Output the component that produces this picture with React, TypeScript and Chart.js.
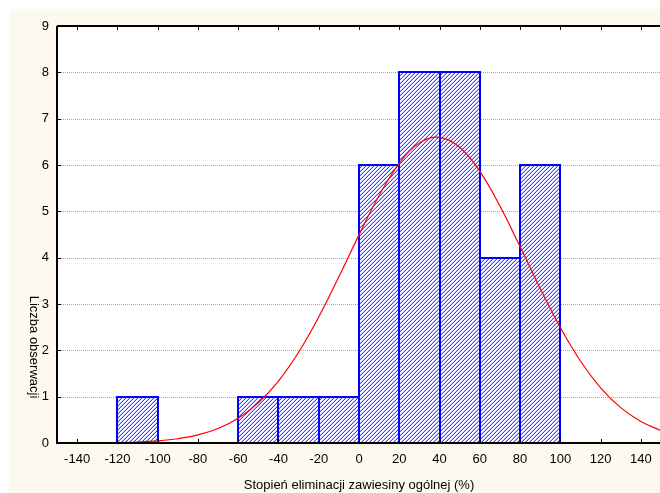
import React, { useEffect, useRef } from 'react';
import { Chart, registerables } from 'chart.js';

Chart.register(...registerables);

// Histogram bins (lower edges), bin width and counts
const binStarts = [-120, -60, -40, -20, 0, 20, 40, 60, 80];
const binWidth = 20;
const counts = [1, 1, 1, 1, 6, 8, 8, 4, 6];

// Expected-normal curve
const curveX = [-150, -140, -130, -120, -110, -100, -90, -80, -70, -60, -50, -40, -30, -20, -10, 0, 10, 20, 30, 40, 50, 60, 70, 80, 90, 100, 110, 120, 130, 140, 150];
const curveY = [0.001, 0.002, 0.004, 0.01, 0.022, 0.046, 0.092, 0.174, 0.314, 0.536, 0.869, 1.338, 1.958, 2.719, 3.587, 4.492, 5.343, 6.036, 6.475, 6.597, 6.382, 5.863, 5.116, 4.239, 3.336, 2.493, 1.769, 1.192, 0.763, 0.464, 0.268];

const xTicks = [-140, -120, -100, -80, -60, -40, -20, 0, 20, 40, 60, 80, 100, 120, 140];
const yTicks = [0, 1, 2, 3, 4, 5, 6, 7, 8, 9];

const xTitle = 'Stopień eliminacji zawiesiny ogólnej (%)';
const yTitle = 'Liczba obserwacji';

const FONT = '"Liberation Sans", Arial, sans-serif';
const CREAM = '#fdf9ef';

function makePattern(): CanvasPattern | string {
  const c = document.createElement('canvas');
  const p = 4;
  c.width = p;
  c.height = p;
  const g = c.getContext('2d');
  if (!g) return '#aaaaff';
  for (let x = 0; x < p; x++) {
    for (let y = 0; y < p; y++) {
      const d = (x + y) % p;
      g.fillStyle = d === 3 ? '#4444ff' : d === 2 ? '#bcbcff' : '#ffffff';
      g.fillRect(x, y, 1, 1);
    }
  }
  const pat = g.createPattern(c, 'repeat');
  return pat || '#aaaaff';
}

const framePlugin = {
  id: 'framePlugin',
  beforeDraw(chart: any) {
    const { ctx, chartArea: a, width, height } = chart;
    ctx.save();
    ctx.fillStyle = '#ffffff';
    ctx.fillRect(0, 0, width, height);
    ctx.fillStyle = CREAM;
    ctx.fillRect(9, 9, width - 9, height - 9);
    ctx.fillStyle = '#ffffff';
    ctx.fillRect(a.left, a.top, a.right - a.left, a.bottom - a.top);
    ctx.restore();
  },
  beforeDatasetsDraw(chart: any) {
    const { ctx, chartArea: a } = chart;
    const ys = chart.scales.y;
    ctx.save();
    ctx.strokeStyle = '#a8a8a8';
    ctx.lineWidth = 1;
    ctx.setLineDash([1, 1]);
    yTicks.forEach((v) => {
      if (v === 0 || v === 9) return;
      const py = Math.round(ys.getPixelForValue(v)) + 0.5;
      ctx.beginPath();
      ctx.moveTo(a.left, py);
      ctx.lineTo(a.right, py);
      ctx.stroke();
    });
    ctx.restore();
  },
  afterDatasetDraw(chart: any, args: any) {
    if (args.index !== 1) return;
    const { ctx } = chart;
    const meta = chart.getDatasetMeta(1);
    ctx.save();
    ctx.strokeStyle = '#0000ff';
    ctx.lineWidth = 2;
    meta.data.forEach((el: any) => {
      const props = el.getProps(['x', 'y', 'base', 'width'], true);
      const l = Math.round(props.x - props.width / 2);
      const r = Math.round(props.x + props.width / 2);
      const t = Math.round(props.y);
      const b = Math.round(props.base);
      ctx.strokeRect(l, t, r - l, b - t);
    });
    ctx.restore();
  },
  afterDraw(chart: any) {
    const { ctx, chartArea: a } = chart;
    const xs = chart.scales.x;
    const ys = chart.scales.y;
    ctx.save();
    ctx.strokeStyle = '#000000';
    ctx.lineWidth = 2;
    ctx.beginPath();
    ctx.moveTo(a.left, a.top);
    ctx.lineTo(a.right, a.top);
    ctx.moveTo(a.left, a.top);
    ctx.lineTo(a.left, a.bottom);
    ctx.lineTo(a.right, a.bottom);
    ctx.stroke();
    ctx.lineWidth = 1;
    ctx.beginPath();
    xTicks.forEach((v) => {
      const px = Math.round(xs.getPixelForValue(v)) + 0.5;
      ctx.moveTo(px, a.bottom);
      ctx.lineTo(px, a.bottom - 4);
      ctx.moveTo(px, a.top);
      ctx.lineTo(px, a.top + 4);
    });
    yTicks.forEach((v) => {
      const py = Math.round(ys.getPixelForValue(v)) + 0.5;
      ctx.moveTo(a.left, py);
      ctx.lineTo(a.left + 4, py);
    });
    ctx.stroke();

    ctx.fillStyle = '#000000';
    ctx.font = '13px ' + FONT;
    ctx.textAlign = 'center';
    ctx.textBaseline = 'middle';
    ctx.fillText(xTitle, xs.getPixelForValue(0), 485);
    ctx.translate(34, 347);
    ctx.rotate(Math.PI / 2);
    ctx.fillText(yTitle, 0, 0);
    ctx.restore();
  },
};

export default function App() {
  const ref = useRef<HTMLCanvasElement | null>(null);

  useEffect(() => {
    if (!ref.current) return;
    const pattern = makePattern();
    const bars = binStarts.map((s, i) => ({ x: s + binWidth / 2, y: counts[i] }));
    const curve = curveX.map((x, i) => ({ x, y: curveY[i] }));

    const chart = new Chart(ref.current, {
      type: 'bar',
      data: {
        datasets: [
          {
            type: 'line',
            label: 'normal',
            data: curve,
            borderColor: '#ff0000',
            borderWidth: 1.2,
            pointRadius: 0,
            tension: 0.4,
            fill: false,
            order: 0,
          } as any,
          {
            type: 'bar',
            label: 'count',
            data: bars,
            backgroundColor: pattern as any,
            borderWidth: 0,
            barPercentage: 1,
            categoryPercentage: 1,
            order: 1,
          } as any,
        ],
      },
      options: {
        responsive: false,
        animation: false,
        devicePixelRatio: 1,
        layout: { padding: { left: 0, top: 26, right: 0, bottom: 0 } },
        plugins: {
          legend: { display: false },
          tooltip: { enabled: false },
          title: { display: false },
        },
        scales: {
          x: {
            type: 'linear',
            min: -150,
            max: 150,
            offset: false,
            grid: { display: false, drawTicks: false },
            border: { display: false },
            afterBuildTicks: (s: any) => {
              s.ticks = xTicks.map((v) => ({ value: v }));
            },
            afterFit: (s: any) => {
              s.height = 50;
            },
            ticks: {
              autoSkip: false,
              maxRotation: 0,
              padding: 9,
              color: '#000000',
              font: { family: FONT, size: 13 },
              callback: (v: any) => String(v),
            },
          },
          y: {
            type: 'linear',
            min: 0,
            max: 9,
            grid: { display: false, drawTicks: false },
            border: { display: false },
            afterBuildTicks: (s: any) => {
              s.ticks = yTicks.map((v) => ({ value: v }));
            },
            afterFit: (s: any) => {
              s.width = 57;
            },
            ticks: {
              padding: 8,
              color: '#000000',
              font: { family: FONT, size: 13 },
              callback: (v: any) => String(v),
            },
          },
        },
      },
      plugins: [framePlugin],
    });
    return () => chart.destroy();
  }, []);

  return (
    <div
      style={{
        position: 'fixed',
        left: 0,
        top: 0,
        width: 660,
        height: 493,
        overflow: 'hidden',
        background: '#ffffff',
      }}
    >
      <canvas ref={ref} width={661} height={493} style={{ width: 661, height: 493, display: 'block' }} />
    </div>
  );
}
